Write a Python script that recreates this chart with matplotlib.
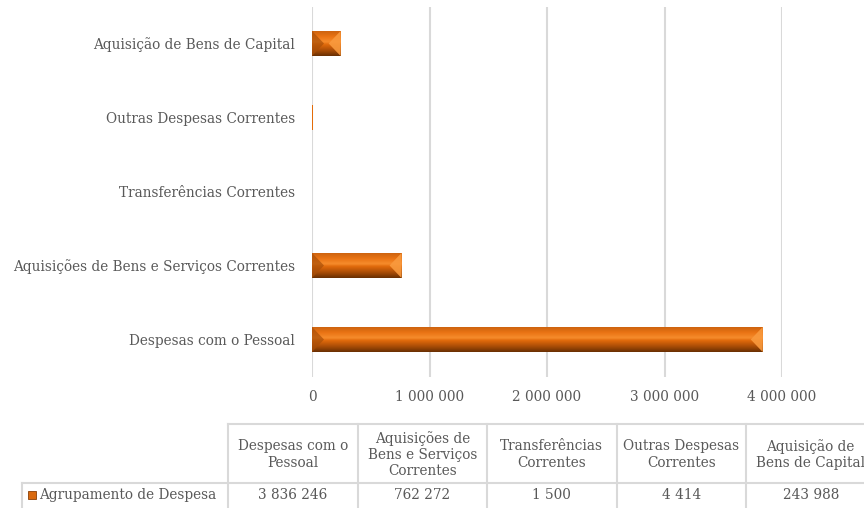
import matplotlib
matplotlib.use("Agg")
import matplotlib.pyplot as plt
import numpy as np
from matplotlib.colors import LinearSegmentedColormap
from matplotlib.patches import Polygon
from matplotlib.lines import Line2D

# Despesa por agrupamento (euros), de baixo para cima no gráfico
categorias = [
    "Despesas com o Pessoal",
    "Aquisições de Bens e Serviços Correntes",
    "Transferências Correntes",
    "Outras Despesas Correntes",
    "Aquisição de Bens de Capital",
]
valores = [3836246, 762272, 1500, 4414, 243988]
cabecalhos = [
    "Despesas com o\nPessoal",
    "Aquisições de\nBens e Serviços\nCorrentes",
    "Transferências\nCorrentes",
    "Outras Despesas\nCorrentes",
    "Aquisição de\nBens de Capital",
]
serie = "Agrupamento de Despesa"
ticks_x = [0, 1000000, 2000000, 3000000, 4000000]

FONT = "DejaVu Serif"
TXT = "#595959"
GRID = "#D9D9D9"
FS = 9.8
W, H = 864, 508

plt.rcParams["font.family"] = FONT


def fmt(v):
    return f"{v:,}".replace(",", " ")


grad = LinearSegmentedColormap.from_list("bar", [
    (0.0, "#C9600E"), (0.25, "#EA7414"), (0.45, "#F68C2C"),
    (0.55, "#E26B0C"), (0.8, "#A64B06"), (1.0, "#6A3003"),
])


def bevel(ax, rect, bx):
    """Chanfro sobre a barra: degradê vertical e pontas triangulares."""
    x0, yb = rect.get_x(), rect.get_y()
    x1, yt = x0 + rect.get_width(), yb + rect.get_height()
    ym = (yb + yt) / 2
    bx = min(bx, (x1 - x0) / 2)
    g = np.linspace(0, 1, 64).reshape(-1, 1)
    im = ax.imshow(g, cmap=grad, extent=(x0, x1, yb, yt), origin="upper",
                   aspect="auto", interpolation="bilinear", zorder=3)
    im.set_clip_path(rect)
    ax.add_patch(Polygon([(x0, yt), (x0 + bx, ym), (x0, yb)], closed=True,
                         facecolor="#A94F08", edgecolor="none", alpha=0.7, zorder=4))
    ax.add_patch(Polygon([(x1, yt), (x1 - bx, ym), (x1, yb)], closed=True,
                         facecolor="#F99A3E", edgecolor="none", alpha=0.9, zorder=4))


fig = plt.figure(figsize=(W / 100, H / 100), dpi=100)

# área do gráfico em pixels
px_l, px_r, px_t, px_b = 312, 782, 6.5, 376.5
ax = fig.add_axes([px_l / W, 1 - px_b / H, (px_r - px_l) / W, (px_b - px_t) / H])

xmax = ticks_x[-1]
per_px = xmax / (px_r - px_l)
ypos = np.arange(len(categorias))
bars = ax.barh(ypos, valores, height=0.34, color="#E36C0A", lw=0, zorder=2)
for rect in bars:
    # barras com menos de um pixel ficam só com o preenchimento simples
    if rect.get_width() > 2 * per_px:
        bevel(ax, rect, 12 * per_px)

ax.set_xlim(0, xmax)
ax.set_ylim(-0.5, len(categorias) - 0.5)
ax.set_xticks(ticks_x)
ax.set_xticklabels([fmt(t) for t in ticks_x])
ax.set_yticks(ypos)
ax.set_yticklabels(categorias)
ax.tick_params(axis="both", length=0, labelsize=FS, colors=TXT)
ax.tick_params(axis="x", pad=10)
ax.tick_params(axis="y", pad=12)
ax.grid(axis="x", color=GRID, lw=1.5)
ax.set_axisbelow(True)
for s in ax.spines.values():
    s.set_visible(False)

# tabela de dados em coordenadas de pixel
tb = fig.add_axes([0, 0, 1, 1])
tb.set_xlim(0, W)
tb.set_ylim(H, 0)
tb.axis("off")

col0, colw = 228, 129.5
head_t, row_t, row_b = 424, 483, 512
leg_l = 22
ncol = len(cabecalhos)
x_end = col0 + colw * ncol


def hline(x0, x1, y):
    tb.add_line(Line2D([x0, x1], [y, y], color=GRID, lw=1.5))


def vline(x, y0, y1):
    tb.add_line(Line2D([x, x], [y0, y1], color=GRID, lw=1.5))


hline(col0, x_end, head_t)
hline(leg_l, x_end, row_t)
vline(leg_l, row_t, row_b)
for i in range(ncol + 1):
    vline(col0 + i * colw, head_t, row_b)

for i, (lab, v) in enumerate(zip(cabecalhos, valores)):
    cx = col0 + (i + 0.5) * colw
    tb.text(cx, (head_t + row_t) / 2 + 1, lab, ha="center", va="center",
            fontsize=FS, color=TXT, linespacing=1.2)
    tb.text(cx, 495, fmt(v), ha="center", va="center",
            fontsize=FS, color=TXT)

# marcador da série
tb.add_patch(Polygon([(28, 491), (36, 491), (36, 499), (28, 499)], closed=True,
                     facecolor="#D9690F", edgecolor="#8A3F05", lw=0.6))
tb.text(39, 495, serie, ha="left", va="center", fontsize=FS, color=TXT)

fig.savefig("out.png", dpi=100)
